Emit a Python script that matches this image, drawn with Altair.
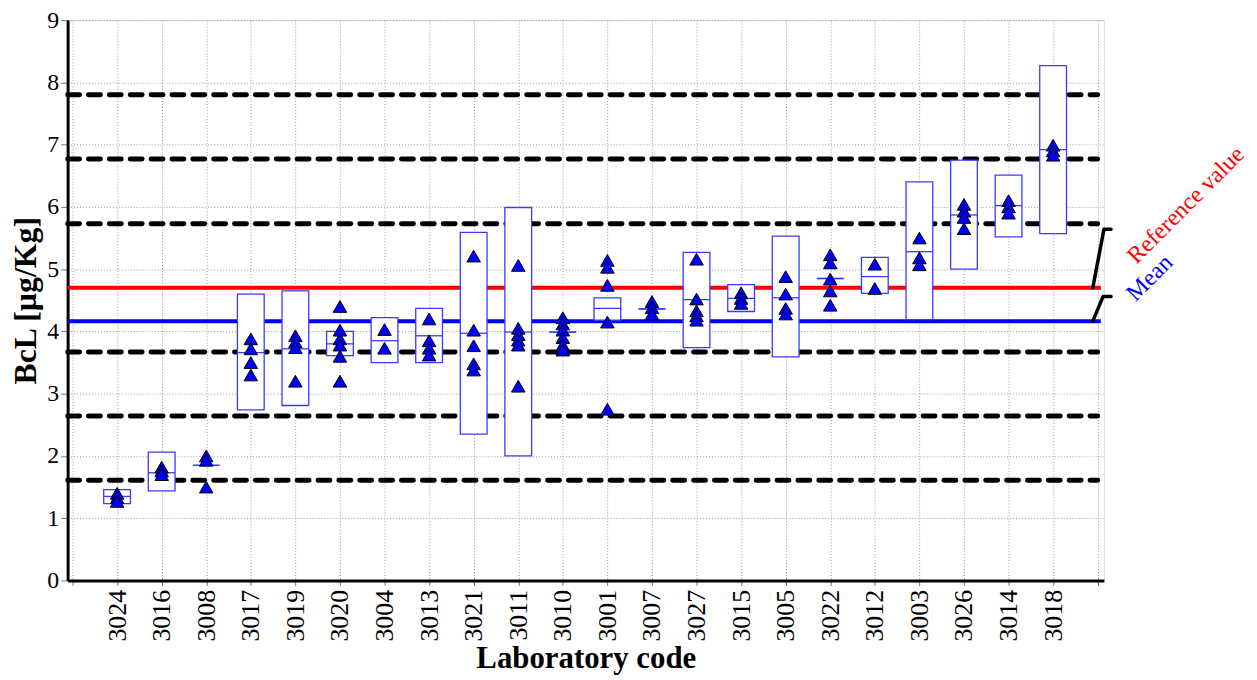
import altair as alt
import pandas as pd

# ---------------- data ----------------
labs = ["3024", "3016", "3008", "3017", "3019", "3020", "3004", "3013", "3021", "3011", "3010",
        "3001", "3007", "3027", "3015", "3005", "3022", "3012", "3003", "3026", "3014", "3018"]
box_low = [1.235, 1.44, 1.85, 2.74, 2.81, 3.61, 3.50, 3.50, 2.35, 2.00, 3.99,
           4.18, 4.36, 3.74, 4.32, 3.59, 4.85, 4.61, 4.19, 5.00, 5.52, 5.57]
box_high = [1.46, 2.06, 1.85, 4.60, 4.65, 4.00, 4.22, 4.37, 5.59, 5.99, 3.99,
            4.54, 4.36, 5.27, 4.75, 5.53, 4.85, 5.19, 6.40, 6.75, 6.51, 8.27]
box_mid = [1.35, 1.73, 1.85, 3.66, 3.72, 3.80, 3.85, 3.93, 3.97, 3.99, 3.99,
           4.37, 4.36, 4.51, 4.53, 4.54, 4.85, 4.88, 5.28, 5.87, 6.02, 6.92]
replicates = [
    [1.40, 1.33, 1.27],
    [1.82, 1.76, 1.70],
    [2.00, 1.93, 1.50],
    [3.88, 3.72, 3.50, 3.30],
    [3.93, 3.83, 3.74, 3.20],
    [4.40, 4.02, 3.88, 3.78, 3.60, 3.20],
    [4.03, 3.73],
    [4.20, 3.85, 3.73, 3.62],
    [5.21, 4.02, 3.77, 3.48, 3.38],
    [5.06, 4.05, 3.95, 3.86, 3.78, 3.12],
    [4.22, 4.12, 4.02, 3.90, 3.78, 3.70],
    [5.14, 5.03, 4.74, 4.15, 2.75],
    [4.48, 4.38, 4.28],
    [5.16, 4.52, 4.33, 4.25, 4.18],
    [4.62, 4.53, 4.45],
    [4.88, 4.60, 4.37, 4.28],
    [5.23, 5.10, 4.84, 4.65, 4.42],
    [5.08, 4.69],
    [5.50, 5.18, 5.07],
    [6.04, 5.93, 5.83, 5.65],
    [6.10, 6.00, 5.90],
    [6.99, 6.90, 6.83],
]
reference_value = 4.70
mean_value = 4.165
limit_levels = [1.61, 2.64, 3.67, 5.73, 6.77, 7.80]
y_ticks = [0, 1, 2, 3, 4, 5, 6, 7, 8, 9]

# ---------------- tables ----------------
n = len(labs)
pos = list(range(1, n + 1))
HALF = 0.30
boxes = pd.DataFrame({
    "lab": labs, "pos": pos,
    "x0": [p - HALF for p in pos], "x1": [p + HALF for p in pos],
    "low": box_low, "high": box_high, "mid": box_mid,
})
pts = pd.DataFrame([{"lab": l, "pos": p, "value": v}
                    for l, p, vals in zip(labs, pos, replicates) for v in vals])

X0, X1 = -0.11, 23.14
LINE_END = 23.07
limits = pd.DataFrame({"y": limit_levels, "x0": X0, "x1": 23.0})
refs = pd.DataFrame({"name": ["Reference value", "Mean"],
                     "y": [reference_value, mean_value],
                     "x0": X0, "x1": LINE_END})
leaders = pd.DataFrame({
    "grp": ["r", "r", "r", "m", "m", "m"],
    "k": [0, 1, 2, 0, 1, 2],
    "x": [22.89, 23.14, 23.30, 22.89, 23.12, 23.30],
    "y": [reference_value, 5.64, 5.64, mean_value, 4.56, 4.56],
})
labels = pd.DataFrame({"text": ["Reference value", "Mean"],
                       "x": [23.87, 23.85], "y": [5.07, 4.47],
                       "color": ["#ff0000", "#0000ff"]})

label_arr = "[" + ",".join(["''"] + [f"'{l}'" for l in labs] + ["''"]) + "]"

xscale = alt.Scale(domain=[X0, X1], nice=False, zero=False)
yscale = alt.Scale(domain=[0, 9], nice=False, zero=True)

FONT = "Liberation Serif"
xaxis = alt.Axis(values=list(range(0, 24)), labelExpr=f"{label_arr}[datum.value]",
                 labelAngle=270, labelAlign="right", labelBaseline="middle",
                 labelFont=FONT, labelFontSize=26, labelColor="black", labelPadding=4,
                 title="Laboratory code", titleFont=FONT, titleFontSize=31,
                 titleFontWeight="bold", titleColor="black", titlePadding=3,
                 grid=True, gridColor="#9a9a9a", gridDash=[1, 2], gridWidth=1,
                 domainColor="black", domainWidth=3, tickColor="#777", tickSize=5,
                 labelFlush=False, labelOverlap=False)
yaxis = alt.Axis(values=y_ticks, format="d",
                 labelFont=FONT, labelFontSize=24, labelColor="black", labelPadding=2,
                 title="BcL [µg/Kg]", titleFont=FONT, titleFontSize=32,
                 titleFontWeight="bold", titleColor="black", titlePadding=4,
                 grid=True, gridColor="#9a9a9a", gridDash=[1, 2], gridWidth=1,
                 domainColor="black", domainWidth=3, tickColor="#777", tickSize=7,
                 labelFlush=False)

base_grid = alt.Chart(limits).mark_rule(opacity=0).encode(
    x=alt.X("x0:Q", scale=xscale, axis=xaxis),
    y=alt.Y("y:Q", scale=yscale, axis=yaxis),
)

dashed = alt.Chart(limits).mark_rule(
    color="black", strokeWidth=5, strokeDash=[12, 9], strokeCap="round"
).encode(x="x0:Q", x2="x1:Q", y="y:Q")

ref_lines = alt.Chart(refs).mark_rule(strokeWidth=4).encode(
    x="x0:Q", x2="x1:Q", y="y:Q",
    color=alt.Color("name:N", scale=alt.Scale(domain=["Reference value", "Mean"],
                                              range=["#ff0000", "#0000ff"]), legend=None),
)

rects = alt.Chart(boxes).mark_rect(fill="white", stroke="#3a3aff", strokeWidth=1.3).encode(
    x="x0:Q", x2="x1:Q", y="low:Q", y2="high:Q")

mids = alt.Chart(boxes).mark_rule(color="#3a3aff", strokeWidth=1.3).encode(
    x="x0:Q", x2="x1:Q", y="mid:Q")

tri = alt.Chart(pts).mark_point(shape="triangle-up", filled=True, fill="#0000ff",
                                stroke="black", strokeWidth=1, size=185, opacity=1).encode(
    x="pos:Q", y="value:Q")

lead = alt.Chart(leaders).mark_line(color="black", strokeWidth=3.5, clip=False,
                                    strokeJoin="round", strokeCap="round").encode(
    x="x:Q", y="y:Q", detail="grp:N", order="k:Q")

txt = alt.Chart(labels).mark_text(angle=315, align="left", baseline="alphabetic",
                                  font=FONT, fontSize=24, clip=False).encode(
    x="x:Q", y="y:Q", text="text:N", color=alt.Color("color:N", scale=None))

chart = alt.layer(base_grid, dashed, ref_lines, rects, mids, tri, lead, txt).properties(
    width=1043, height=564,
    autosize=alt.AutoSizeParams(type="none"),
    padding={"left": 60, "top": 10, "right": 146, "bottom": 98},
).configure_view(stroke="#777", strokeWidth=2).configure(background="white")

chart.save("out.html", embed_options={"renderer": "svg", "actions": False})
